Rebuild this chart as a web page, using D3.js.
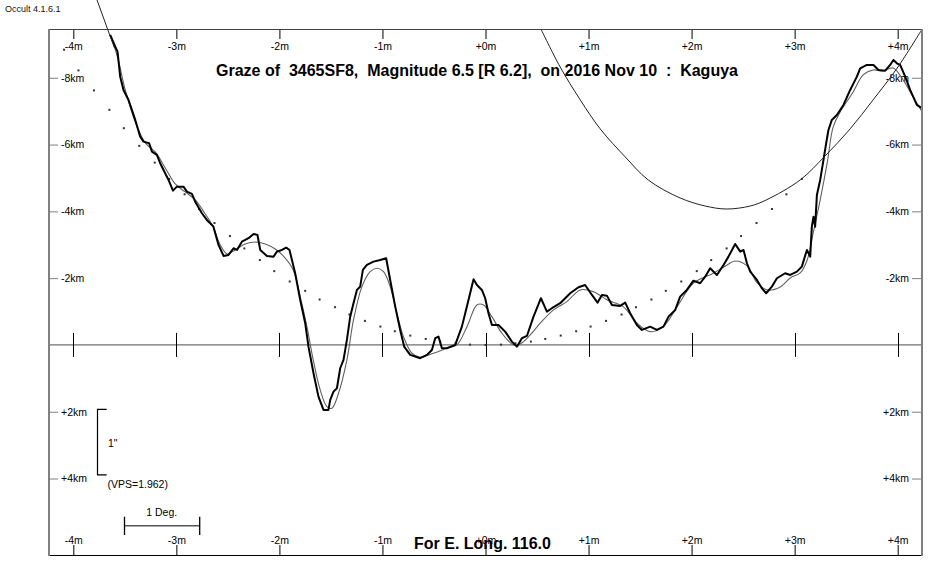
<!DOCTYPE html>
<html><head><meta charset="utf-8">
<script src="https://cdn.jsdelivr.net/npm/d3@7"></script>
<style>body{margin:0;background:#fff}svg{display:block}text{font-family:"Liberation Sans",Arial,sans-serif}</style>
</head><body><svg id="c" width="950" height="580"></svg>
<script>
const xTickValues=[-4,-3,-2,-1,0,1,2,3,4];
const xTickLabels=["-4m","-3m","-2m","-1m","+0m","+1m","+2m","+3m","+4m"];
const yTickValues=[-8,-6,-4,-2,2,4];
const yTickLabels=["-8km","-6km","-4km","-2km","+2km","+4km"];

const profileMin=[-3.642,-3.593,-3.571,-3.545,-3.513,-3.464,-3.399,-3.351,-3.319,-3.264,-3.237,-3.189,-3.157,-3.076,-3.033,-2.995,-2.931,-2.898,-2.849,-2.817,-2.752,-2.704,-2.640,-2.591,-2.542,-2.494,-2.445,-2.412,-2.364,-2.332,-2.300,-2.251,-2.213,-2.186,-2.121,-2.057,-2.024,-1.976,-1.934,-1.902,-1.847,-1.798,-1.750,-1.718,-1.669,-1.621,-1.572,-1.524,-1.507,-1.475,-1.442,-1.410,-1.378,-1.345,-1.313,-1.281,-1.248,-1.216,-1.190,-1.151,-1.087,-1.022,-0.964,-0.925,-0.876,-0.828,-0.789,-0.731,-0.634,-0.569,-0.520,-0.488,-0.456,-0.423,-0.375,-0.294,-0.229,-0.165,-0.116,-0.083,-0.035,-0.003,0.029,0.062,0.126,0.191,0.256,0.305,0.353,0.402,0.466,0.538,0.596,0.644,0.725,0.822,0.902,0.967,1.033,1.087,1.130,1.178,1.227,1.307,1.356,1.404,1.469,1.518,1.598,1.663,1.727,1.776,1.841,1.889,1.954,2.018,2.083,2.132,2.180,2.246,2.310,2.358,2.423,2.472,2.504,2.537,2.569,2.634,2.682,2.724,2.779,2.828,2.908,2.957,3.022,3.070,3.119,3.151,3.167,3.183,3.199,3.216,3.248,3.280,3.306,3.328,3.361,3.410,3.474,3.539,3.604,3.636,3.701,3.765,3.814,3.879,3.927,3.959,3.992,4.024,4.073,4.121,4.186,4.235];
const profileKm=[-9.281,-8.931,-8.781,-8.033,-7.635,-7.335,-6.737,-6.237,-6.087,-6.039,-5.787,-5.689,-5.440,-4.940,-4.620,-4.740,-4.740,-4.590,-4.521,-4.290,-3.943,-3.743,-3.542,-2.994,-2.665,-2.695,-2.895,-2.844,-3.093,-3.144,-3.195,-3.323,-3.293,-2.844,-2.665,-2.644,-2.793,-2.844,-2.913,-2.844,-2.147,-1.347,-0.659,0.051,0.847,1.548,1.946,1.946,1.647,1.398,1.296,0.698,0.449,-0.150,-0.847,-1.249,-1.647,-1.746,-2.246,-2.395,-2.494,-2.545,-2.596,-1.946,-1.147,-0.449,0.051,0.299,0.398,0.299,0.150,-0.201,-0.249,0.099,0.099,0,-0.548,-1.347,-1.967,-1.796,-1.647,-1.398,-0.949,-0.599,-0.599,-0.398,-0.099,0.051,-0.201,-0.269,-0.847,-1.398,-0.997,-1.099,-1.249,-1.548,-1.728,-1.796,-1.497,-1.266,-1.497,-1.476,-1.198,-1.168,-1.266,-0.949,-0.599,-0.449,-0.548,-0.449,-0.548,-0.847,-1.048,-1.446,-1.647,-1.925,-1.847,-2.045,-2.296,-2.096,-2.395,-2.644,-3.024,-2.793,-2.844,-2.446,-2.195,-1.946,-1.698,-1.548,-1.746,-1.997,-2.147,-2.096,-2.195,-2.344,-2.844,-2.644,-3.542,-3.841,-3.542,-4.491,-4.940,-5.539,-6.039,-6.437,-6.737,-6.886,-7.186,-7.635,-8.033,-8.284,-8.383,-8.383,-8.234,-8.213,-8.383,-8.533,-8.434,-8.383,-8.033,-7.635,-7.186,-7.087];

const smoothMin=[-3.623,-3.564,-3.496,-3.399,-3.302,-3.205,-3.108,-3.011,-2.914,-2.817,-2.720,-2.652,-2.574,-2.507,-2.429,-2.332,-2.235,-2.138,-2.041,-1.963,-1.866,-1.798,-1.733,-1.672,-1.604,-1.539,-1.491,-1.426,-1.345,-1.281,-1.199,-1.119,-1.054,-0.990,-0.925,-0.860,-0.796,-0.714,-0.634,-0.505,-0.375,-0.278,-0.180,-0.083,-0.019,0.062,0.159,0.272,0.337,0.434,0.531,0.660,0.790,0.919,1.045,1.181,1.336,1.472,1.598,1.724,1.860,2.016,2.210,2.345,2.423,2.540,2.637,2.734,2.860,2.957,3.054,3.122,3.180,3.248,3.316,3.374,3.442,3.568,3.665,3.762,3.859,3.956,4.053,4.150,4.238];
const smoothKm=[-9.132,-8.533,-7.635,-6.677,-6.048,-5.778,-5.299,-4.820,-4.581,-4.341,-3.922,-3.593,-2.994,-2.725,-2.844,-3.024,-3.084,-3.024,-2.874,-2.665,-2.246,-1.437,-0.548,0.449,1.347,1.847,1.895,1.446,0.449,-0.749,-1.746,-2.195,-2.296,-2.195,-1.746,-0.949,-0.249,0.249,0.368,0.249,0.099,0,-0.548,-1.198,-1.198,-0.847,-0.350,0,-0.030,-0.299,-0.650,-1.048,-1.296,-1.647,-1.596,-1.347,-1.147,-0.650,-0.398,-0.548,-1.147,-1.847,-2.147,-2.395,-2.515,-2.365,-1.856,-1.647,-1.737,-2.006,-2.156,-2.545,-3.353,-4.341,-5.449,-6.527,-6.976,-7.575,-8.084,-8.234,-8.204,-8.293,-7.934,-7.425,-6.976];

const dotMin=[-4.09,-3.95,-3.80,-3.65,-3.51,-3.36,-3.21,-3.07,-2.92,-2.78,-2.63,-2.48,-2.34,-2.19,-2.05,-1.90,-1.75,-1.61,-1.46,-1.32,-1.17,-1.02,-0.88,-0.73,-0.58,-0.44,-0.29,-0.15,0,0.15,0.29,0.44,0.58,0.73,0.88,1.02,1.17,1.32,1.46,1.61,1.75,1.90,2.05,2.19,2.34,2.48,2.63,2.78,2.92,3.07];
const dotKm=[-8.84,-8.22,-7.62,-7.04,-6.49,-5.96,-5.46,-4.97,-4.51,-4.07,-3.65,-3.26,-2.89,-2.54,-2.21,-1.90,-1.62,-1.36,-1.13,-0.91,-0.72,-0.55,-0.41,-0.28,-0.18,-0.10,-0.05,-0.01,0,-0.01,-0.05,-0.10,-0.18,-0.28,-0.41,-0.55,-0.72,-0.91,-1.13,-1.36,-1.62,-1.90,-2.21,-2.54,-2.89,-3.26,-3.65,-4.07,-4.51,-4.97];

const arcMin=[0.538,0.725,0.919,1.113,1.356,1.579,1.889,2.132,2.336,2.569,2.724,3.054,3.296,3.539,3.762,3.995,4.238];
const arcKm=[-9.46,-8.32,-7.34,-6.47,-5.63,-4.94,-4.40,-4.16,-4.07,-4.16,-4.34,-4.94,-5.66,-6.47,-7.34,-8.29,-9.46];

const limbMin=[-3.77,-3.64,-3.60];
const limbKm=[-10.33,-9.22,-8.89];

const titleText="Graze of  3465SF8,  Magnitude 6.5 [R 6.2],  on 2016 Nov 10  :  Kaguya";
const footText="For E. Long. 116.0";
const versionText="Occult 4.1.6.1";
const vps=1.962;

const svg=d3.select("#c");
const L=49,R=922,T=29,B=555;
const FONT='"Liberation Sans",Arial,sans-serif';
const x=d3.scaleLinear().domain([-4.236,4.236]).range([L,R]);
const y=d3.scaleLinear().domain([-9.46,6.29]).range([T,B]);
const pts=(a,b)=>a.map((v,i)=>[v,b[i]]).filter(p=>p[1]!==undefined);

svg.append("defs").append("clipPath").attr("id","clip").append("rect")
  .attr("x",L).attr("y",T).attr("width",R-L).attr("height",B-T);

// zero line
svg.append("line").attr("x1",L).attr("x2",R).attr("y1",y(0)).attr("y2",y(0))
  .attr("stroke","#707070").attr("stroke-width",1.3);
svg.append("g").selectAll("line").data(xTickValues).join("line")
  .attr("x1",d=>Math.round(x(d))+0.5).attr("x2",d=>Math.round(x(d))+0.5)
  .attr("y1",y(0)-12).attr("y2",y(0)+12).attr("stroke","#000").attr("stroke-width",1);

// axes
function styleAxis(g,col){
  g.select(".domain").remove();
  g.attr("font-size",10.5).attr("font-family",FONT);
  g.selectAll("text").attr("fill","#000");
  g.selectAll("line").attr("stroke",col);
}
svg.append("g").attr("transform",`translate(0,${T})`)
  .call(d3.axisBottom(x).tickValues(xTickValues).tickFormat((d,i)=>xTickLabels[i]).tickSize(10).tickPadding(3.5))
  .call(g=>styleAxis(g,"#000"));
svg.append("g").attr("transform",`translate(0,${B})`)
  .call(d3.axisTop(x).tickValues(xTickValues).tickFormat((d,i)=>xTickLabels[i]).tickSize(10).tickPadding(1.5))
  .call(g=>styleAxis(g,"#000"));
svg.append("g").attr("transform",`translate(${L},0)`)
  .call(d3.axisRight(y).tickValues(yTickValues).tickFormat((d,i)=>yTickLabels[i]).tickSize(9).tickPadding(3))
  .call(g=>styleAxis(g,"#808080"));
svg.append("g").attr("transform",`translate(${R},0)`)
  .call(d3.axisLeft(y).tickValues(yTickValues).tickFormat((d,i)=>yTickLabels[i]).tickSize(10).tickPadding(3))
  .call(g=>styleAxis(g,"#808080"));

const plot=svg.append("g").attr("clip-path","url(#clip)");

// dots
plot.append("g").selectAll("rect").data(pts(dotMin,dotKm)).join("rect")
  .attr("x",d=>x(d[0])-1).attr("y",d=>y(d[1])-1).attr("width",2).attr("height",2)
  .attr("fill","#333");

// smoothed profile
plot.append("path").datum(pts(smoothMin,smoothKm))
  .attr("d",d3.line().x(d=>x(d[0])).y(d=>y(d[1])).curve(d3.curveCatmullRom.alpha(0.5)))
  .attr("fill","none").attr("stroke","#606060").attr("stroke-width",1.1);

// actual profile
plot.append("path").datum(pts(profileMin,profileKm))
  .attr("d",d3.line().x(d=>x(d[0])).y(d=>y(d[1])))
  .attr("fill","none").attr("stroke","#000").attr("stroke-width",2).attr("stroke-linejoin","round");

// arc
plot.append("path").datum(pts(arcMin,arcKm))
  .attr("d",d3.line().x(d=>x(d[0])).y(d=>y(d[1])).curve(d3.curveCatmullRom.alpha(0.5)))
  .attr("fill","none").attr("stroke","#222").attr("stroke-width",1);

// limb line at top-left (not clipped)
svg.append("path").datum(pts(limbMin,limbKm))
  .attr("d",d3.line().x(d=>x(d[0])).y(d=>y(d[1])))
  .attr("fill","none").attr("stroke","#222").attr("stroke-width",1);

// frame
svg.append("line").attr("x1",L).attr("x2",R).attr("y1",T+0.5).attr("y2",T+0.5).attr("stroke","#404040").attr("stroke-width",1);
svg.append("line").attr("x1",L).attr("x2",R).attr("y1",B+0.5).attr("y2",B+0.5).attr("stroke","#000").attr("stroke-width",1);
svg.append("line").attr("x1",L).attr("x2",L).attr("y1",T).attr("y2",B+1).attr("stroke","#808080").attr("stroke-width",2);
svg.append("line").attr("x1",R).attr("x2",R).attr("y1",T).attr("y2",B+1).attr("stroke","#808080").attr("stroke-width",2);

// 1" scale bracket
const by1=y(1.93), by2=y(1.93+vps);
svg.append("path").attr("d",`M106.7,${by1}H97.5V${by2}H106.7`).attr("fill","none").attr("stroke","#000").attr("stroke-width",1.2);
svg.append("text").attr("x",108).attr("y",446.5).attr("font-size",10.5).attr("font-family",FONT).text('1"');
svg.append("text").attr("x",107.5).attr("y",488).attr("font-size",10.5).attr("font-family",FONT).text("(VPS="+vps.toFixed(3)+")");

// 1 Deg bar
svg.append("line").attr("x1",124.5).attr("x2",199.7).attr("y1",525.7).attr("y2",525.7).attr("stroke","#555").attr("stroke-width",1.5);
svg.append("line").attr("x1",124.5).attr("x2",124.5).attr("y1",516.7).attr("y2",535).attr("stroke","#000").attr("stroke-width",1.3);
svg.append("line").attr("x1",199.7).attr("x2",199.7).attr("y1",516.7).attr("y2",535).attr("stroke","#000").attr("stroke-width",1.3);
svg.append("text").attr("x",161.7).attr("y",515.5).attr("text-anchor","middle").attr("font-size",10.5).attr("font-family",FONT).text("1 Deg.");

// texts
svg.append("text").attr("x",477).attr("y",76).attr("text-anchor","middle").attr("font-size",16).attr("font-weight","bold")
  .attr("font-family",FONT).style("white-space","pre").text(titleText);
svg.append("text").attr("x",482.5).attr("y",549).attr("text-anchor","middle").attr("font-size",16).attr("font-weight","bold")
  .attr("font-family",FONT).text(footText);
svg.append("text").attr("x",5).attr("y",12).attr("font-size",9).attr("font-family",FONT).attr("fill","#111").text(versionText);
</script></body></html>
